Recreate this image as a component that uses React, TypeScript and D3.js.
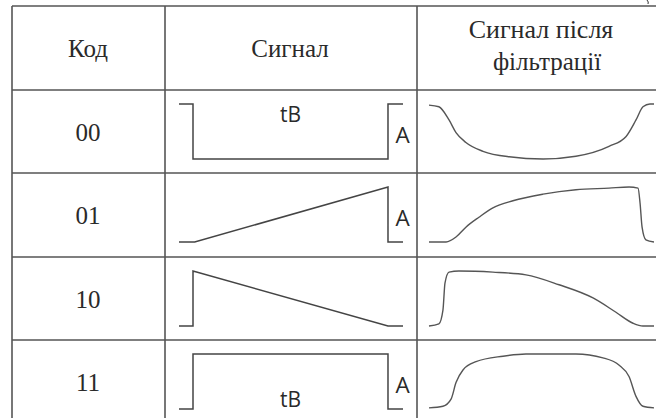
import React from "react";
import * as d3 from "d3";

const codes = ["00", "01", "10", "11"];
const headerCode = "Код";
const headerSignal = "Сигнал";
const headerFiltered = ["Сигнал після", "фільтрації"];
const labelT = "tB";
const labelA = "A";

// Signal waveforms: [t, level] with t in 0..1 across the cell, level 0 = low, 1 = high
const signal00: [number, number][] = [[0, 1], [0.0625, 1], [0.0625, 0], [0.933, 0], [0.933, 1], [1, 1]];
const signal01: [number, number][] = [[0, 0], [0.07, 0], [0.933, 1], [0.933, 0], [1, 0]];
const signal10: [number, number][] = [[0, 0], [0.0625, 0], [0.0625, 1], [0.933, 0], [1, 0]];
const signal11: [number, number][] = [[0, 0], [0.0625, 0], [0.0625, 1], [0.933, 1], [0.933, 0], [1, 0]];
const signals = [signal00, signal01, signal10, signal11];

// Filtered signals: [t, level]
const filtered00: [number, number][] = [
  [0, 0.98], [0.044, 0.95], [0.089, 0.71], [0.12, 0.48], [0.164, 0.3], [0.24, 0.14], [0.356, 0.04],
  [0.507, 0], [0.653, 0.05], [0.8, 0.23], [0.876, 0.41], [0.92, 0.71], [0.951, 0.95], [0.982, 1], [1, 1],
];
const filtered01: [number, number][] = [
  [0, 0], [0.076, 0], [0.12, 0.09], [0.164, 0.27], [0.222, 0.45], [0.284, 0.62], [0.373, 0.75],
  [0.507, 0.87], [0.653, 0.95], [0.8, 0.98], [0.889, 1], [0.929, 0.98], [0.938, 0.71], [0.947, 0.27],
  [0.964, 0.04], [1, 0],
];
const filtered10: [number, number][] = [
  [0, 0], [0.044, 0.04], [0.062, 0.29], [0.071, 0.78], [0.089, 0.98], [0.133, 1], [0.284, 0.98],
  [0.431, 0.93], [0.578, 0.75], [0.729, 0.51], [0.831, 0.25], [0.907, 0.05], [0.951, 0], [1, 0],
];
const filtered11: [number, number][] = [
  [0, 0.02], [0.062, 0.05], [0.098, 0.18], [0.12, 0.48], [0.151, 0.71], [0.209, 0.86], [0.329, 0.96],
  [0.431, 1], [0.653, 1], [0.773, 0.93], [0.844, 0.8], [0.889, 0.59], [0.92, 0.23], [0.951, 0.05], [1, 0.02],
];
const filtereds = [filtered00, filtered01, filtered10, filtered11];

// where the tB / A labels appear per row
const tLabelPos = ["top", null, null, "bottom"];
const showA = [true, true, false, true];

const W = 656;
const H = 418;

export default function App() {
  const tableLeft = 12;
  const tableTop = 6;
  const colX = [tableLeft, 165, 417];
  const rowTops = [90, 173, 257, 340];

  const sigX = d3.scaleLinear().domain([0, 1]).range([179, 403]);
  const filX = d3.scaleLinear().domain([0, 1]).range([429, 654]);

  const lineColor = "#555";
  const textColor = "#2a2a2a";
  const serif = "'Liberation Serif', 'Times New Roman', serif";
  const sans = "'Open Sans', 'DejaVu Sans', sans-serif";

  return (
    <div style={{ position: "fixed", left: 0, top: 0, width: W, height: H, background: "#fff" }}>
      <svg width={W} height={H} style={{ display: "block" }}>
        <rect width={W} height={H} fill="#fff" />
        {/* grid */}
        <line x1={tableLeft} x2={W} y1={tableTop} y2={tableTop} stroke={lineColor} strokeWidth={1.6} />
        {rowTops.map((y, i) => (
          <line key={"h" + i} x1={tableLeft} x2={W} y1={y} y2={y} stroke={lineColor} strokeWidth={1.6} />
        ))}
        {colX.map((x, i) => (
          <line key={"v" + i} x1={x} x2={x} y1={tableTop} y2={H} stroke={lineColor} strokeWidth={1.6} />
        ))}
        <path d="M647,0 Q649,2 648,4" fill="none" stroke="#333" strokeWidth={1} />

        {/* header */}
        <text x={88} y={57} textAnchor="middle" fontFamily={serif} fontSize={25} fill={textColor}>{headerCode}</text>
        <text x={290} y={57} textAnchor="middle" fontFamily={serif} fontSize={25} fill={textColor}>{headerSignal}</text>
        <text x={541} y={38} textAnchor="middle" fontFamily={serif} fontSize={26} fill={textColor}>{headerFiltered[0]}</text>
        <text x={547} y={70} textAnchor="middle" fontFamily={serif} fontSize={25} fill={textColor}>{headerFiltered[1]}</text>

        {codes.map((code, i) => {
          const top = rowTops[i];
          const y = d3.scaleLinear().domain([0, 1]).range([top + 69, top + 14]);
          const lineGen = d3.line<[number, number]>().x((d) => sigX(d[0])).y((d) => y(d[1]));
          const curveGen = d3
            .line<[number, number]>()
            .x((d) => filX(d[0]))
            .y((d) => y(d[1]))
            .curve(d3.curveMonotoneX);
          return (
            <g key={code}>
              <text x={88} y={top + 50.5} textAnchor="middle" fontFamily={serif} fontSize={25} fill={textColor}>{code}</text>
              <path d={lineGen(signals[i]) || ""} fill="none" stroke="#444" strokeWidth={1.5} />
              <path d={curveGen(filtereds[i]) || ""} fill="none" stroke="#555" strokeWidth={1.4} />
              {showA[i] && (
                <text x={402.5} y={top + 53} textAnchor="middle" fontFamily={sans} fontSize={22.5} fill={textColor}>{labelA}</text>
              )}
              {tLabelPos[i] === "top" && (
                <text x={290.5} y={top + 32} textAnchor="middle" fontFamily={sans} fontSize={21} fill={textColor}>{labelT}</text>
              )}
              {tLabelPos[i] === "bottom" && (
                <text x={290.5} y={top + 67} textAnchor="middle" fontFamily={sans} fontSize={21} fill={textColor}>{labelT}</text>
              )}
            </g>
          );
        })}
      </svg>
    </div>
  );
}
